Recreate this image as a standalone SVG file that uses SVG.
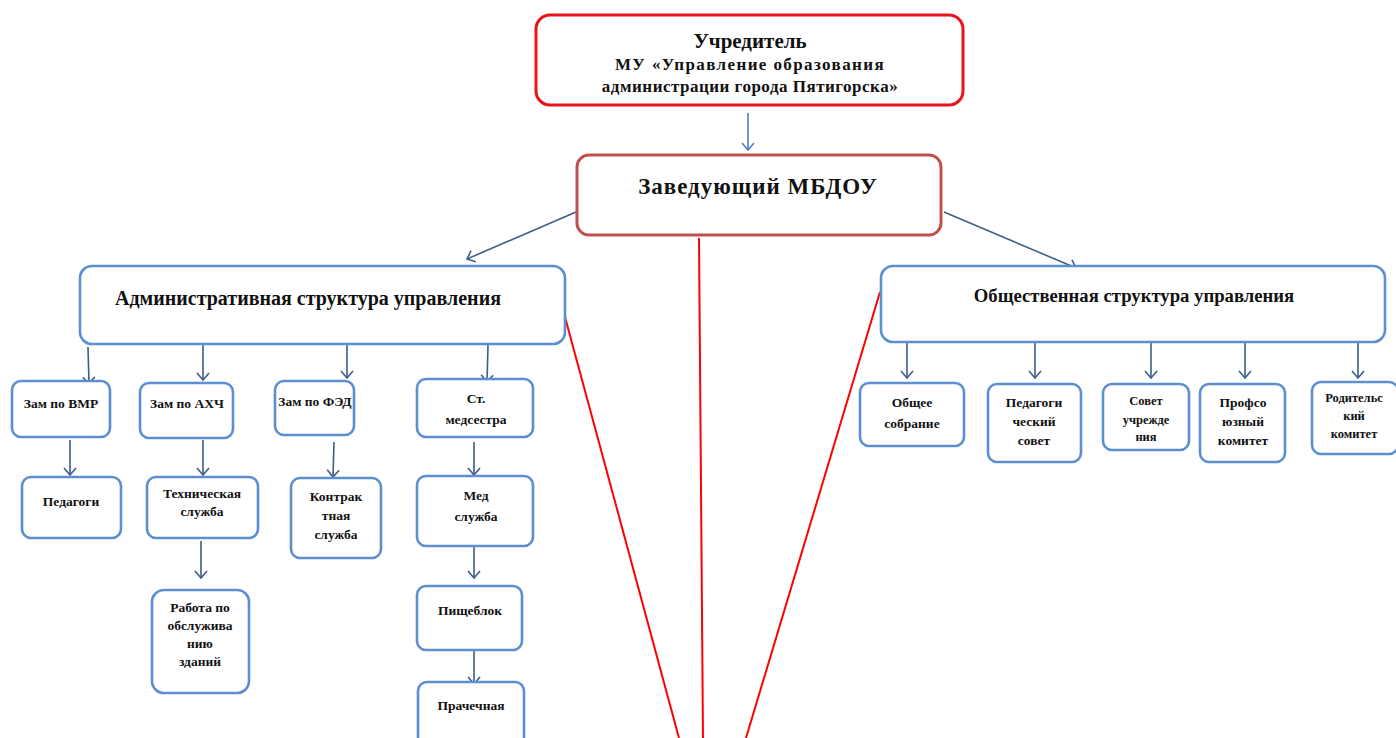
<svg xmlns="http://www.w3.org/2000/svg" width="1396" height="738" viewBox="0 0 1396 738">
<style>
.box{fill:#fff;stroke:#5b8fd0;stroke-width:2.6}
.top{fill:#fff;stroke:#e8141c;stroke-width:3}
.head{fill:#fff;stroke:#c0504d;stroke-width:3}
.t{font-family:"Liberation Serif",serif;font-weight:bold;fill:#111;text-anchor:middle}
.s{font-size:13.5px}
.c{stroke:#3e5d87;stroke-width:1.6;fill:none;marker-end:url(#a)}
.cb{stroke:#4f7fbf;stroke-width:1.6;fill:none;marker-end:url(#a2)}
.r{stroke:#ff0000;stroke-width:2;fill:none}
</style>
<defs>
<marker id="a" markerUnits="userSpaceOnUse" markerWidth="20" markerHeight="20" refX="10" refY="10" orient="auto">
<path d="M3,4 L10,10 L3,16" fill="none" stroke="#3e5d87" stroke-width="1.6"/>
</marker>
<marker id="a2" markerUnits="userSpaceOnUse" markerWidth="20" markerHeight="20" refX="10" refY="10" orient="auto">
<path d="M3,4 L10,10 L3,16" fill="none" stroke="#4f7fbf" stroke-width="1.6"/>
</marker>
</defs>
<rect width="1396" height="738" fill="#fff"/>
<g id="connectors">
<line class="cb" x1="748" y1="113" x2="748" y2="150"/>
<line class="c" x1="576" y1="212" x2="467" y2="259"/>
<line class="c" x1="944" y1="212" x2="1076" y2="268"/>
<line class="r" x1="699" y1="238" x2="703" y2="738"/>
<line class="r" x1="565" y1="317" x2="679" y2="738"/>
<line class="r" x1="880" y1="292" x2="746" y2="738"/>
<line class="c" x1="88" y1="347" x2="89" y2="384"/>
<line class="c" x1="203" y1="342" x2="203" y2="380"/>
<line class="c" x1="347" y1="342" x2="347" y2="378"/>
<line class="c" x1="488" y1="345" x2="487" y2="382"/>
<line class="c" x1="70" y1="440" x2="70" y2="475"/>
<line class="c" x1="203" y1="440" x2="203" y2="475"/>
<line class="c" x1="334" y1="442" x2="333" y2="477"/>
<line class="c" x1="474" y1="442" x2="474" y2="475"/>
<line class="c" x1="201" y1="541" x2="201" y2="578"/>
<line class="c" x1="474" y1="542" x2="474" y2="578"/>
<line class="c" x1="474" y1="650" x2="474" y2="684"/>
<line class="c" x1="907" y1="342" x2="907" y2="378"/>
<line class="c" x1="1035" y1="342" x2="1035" y2="378"/>
<line class="c" x1="1151" y1="342" x2="1151" y2="378"/>
<line class="c" x1="1245" y1="342" x2="1245" y2="378"/>
<line class="c" x1="1358" y1="342" x2="1358" y2="378"/>
</g>
<g id="n-uchreditel">
<rect class="top" x="536" y="15" width="427" height="90" rx="14"/>
<text class="t" x="750" y="48" font-size="21">Учредитель</text>
<text class="t" x="750" y="70" font-size="17" letter-spacing="1.4">МУ «Управление образования</text>
<text class="t" x="750" y="92" font-size="17" letter-spacing="0.5">администрации города Пятигорска»</text>
</g>
<g id="n-zaved">
<rect class="head" x="577" y="155" width="364" height="80" rx="12"/>
<text class="t" x="758" y="194" font-size="23" letter-spacing="1">Заведующий МБДОУ</text>
</g>
<g id="n-admin">
<rect class="box" x="80" y="266" width="485" height="78" rx="12"/>
<text class="t" x="308" y="305" font-size="20">Административная структура управления</text>
</g>
<g id="n-public">
<rect class="box" x="881" y="266" width="504" height="76" rx="12"/>
<text class="t" x="1134" y="302" font-size="18.7">Общественная структура управления</text>
</g>
<g id="n-vmr">
<rect class="box" x="12" y="381" width="98" height="56" rx="9"/>
<text class="t s" x="61" y="408">Зам по ВМР</text>
</g>
<g id="n-ahch">
<rect class="box" x="140" y="383" width="93" height="55" rx="9"/>
<text class="t s" x="187" y="408">Зам по АХЧ</text>
</g>
<g id="n-fed">
<rect class="box" x="275" y="381" width="79" height="54" rx="9"/>
<text class="t s" x="315" y="406">Зам по ФЭД</text>
</g>
<g id="n-medsestra">
<rect class="box" x="417" y="379" width="116" height="58" rx="9"/>
<text class="t s" x="476" y="403">Ст.</text>
<text class="t s" x="476" y="424">медсестра</text>
</g>
<g id="n-pedagogi">
<rect class="box" x="22" y="477" width="99" height="61" rx="9"/>
<text class="t s" x="71" y="506">Педагоги</text>
</g>
<g id="n-tech">
<rect class="box" x="147" y="477" width="111" height="61" rx="9"/>
<text class="t s" x="202" y="498">Техническая</text>
<text class="t s" x="202" y="516">служба</text>
</g>
<g id="n-kontrakt">
<rect class="box" x="291" y="478" width="90" height="80" rx="9"/>
<text class="t s" x="336" y="501">Контрак</text>
<text class="t s" x="336" y="520">тная</text>
<text class="t s" x="336" y="539">служба</text>
</g>
<g id="n-medsluzhba">
<rect class="box" x="417" y="476" width="116" height="70" rx="9"/>
<text class="t s" x="476" y="500">Мед</text>
<text class="t s" x="476" y="521">служба</text>
</g>
<g id="n-rabota">
<rect class="box" x="152" y="590" width="97" height="103" rx="12"/>
<text class="t s" x="200" y="612">Работа по</text>
<text class="t s" x="200" y="630">обслужива</text>
<text class="t s" x="200" y="648">нию</text>
<text class="t s" x="200" y="666">зданий</text>
</g>
<g id="n-pishcheblok">
<rect class="box" x="417" y="586" width="105" height="64" rx="9"/>
<text class="t s" x="470" y="615">Пищеблок</text>
</g>
<g id="n-prachechnaya">
<rect class="box" x="418" y="682" width="106" height="70" rx="9"/>
<text class="t s" x="471" y="710">Прачечная</text>
</g>
<g id="n-obshchee">
<rect class="box" x="860" y="383" width="104" height="63" rx="9"/>
<text class="t s" x="912" y="407">Общее</text>
<text class="t s" x="912" y="428">собрание</text>
</g>
<g id="n-pedsovet">
<rect class="box" x="988" y="384" width="93" height="78" rx="9"/>
<text class="t s" x="1034" y="407">Педагоги</text>
<text class="t s" x="1034" y="426">ческий</text>
<text class="t s" x="1034" y="445">совет</text>
</g>
<g id="n-sovet">
<rect class="box" x="1103" y="384" width="86" height="66" rx="9"/>
<text class="t" x="1146" y="405" font-size="12.5">Совет</text>
<text class="t" x="1146" y="424" font-size="12.5">учрежде</text>
<text class="t" x="1146" y="441" font-size="12.5">ния</text>
</g>
<g id="n-profsoyuz">
<rect class="box" x="1200" y="384" width="85" height="78" rx="9"/>
<text class="t s" x="1243" y="407">Профсо</text>
<text class="t s" x="1243" y="426">юзный</text>
<text class="t s" x="1243" y="445">комитет</text>
</g>
<g id="n-roditel">
<rect class="box" x="1312" y="382" width="86" height="72" rx="9"/>
<text class="t" x="1354" y="402" font-size="12.5">Родительс</text>
<text class="t" x="1354" y="420" font-size="12.5">кий</text>
<text class="t" x="1354" y="438" font-size="12.5">комитет</text>
</g>
</svg>
